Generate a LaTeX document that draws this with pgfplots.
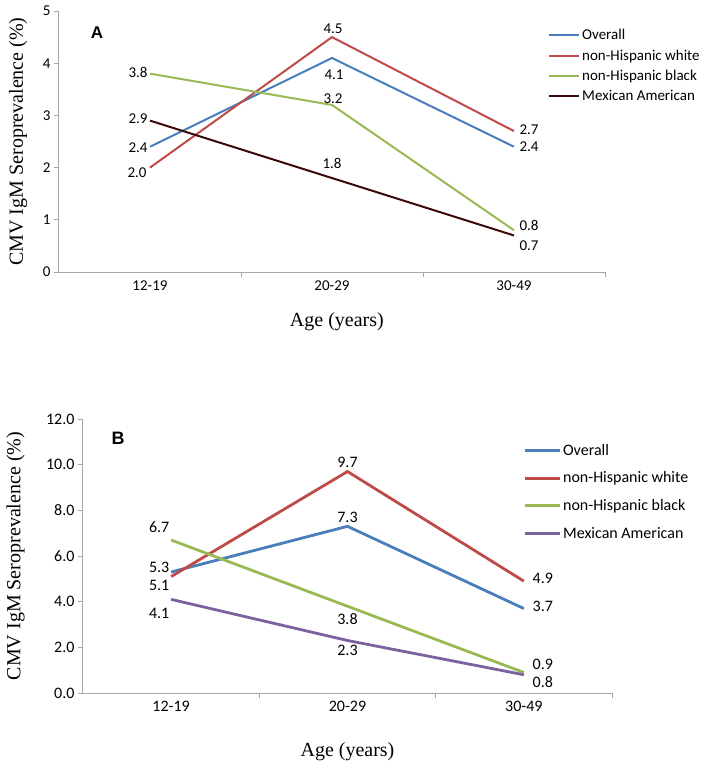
\documentclass[border=0pt]{standalone}
\usepackage{pgfplots}
\pgfplotsset{compat=1.18}
\usepackage{fontspec}
\setmainfont{Carlito}
\newfontfamily\tnr{Liberation Serif}
\newfontfamily\arial{Liberation Sans}
\definecolor{cblue}{HTML}{4A7EBB}
\definecolor{cred}{HTML}{BE4B48}
\definecolor{cgreen}{HTML}{98B954}
\definecolor{cmaroon}{HTML}{3C0A0A}
\definecolor{cpurple}{HTML}{7D60A0}
\definecolor{axgray}{HTML}{A6A6A6}
\pgfplotsset{
  base/.style={
    scale only axis, anchor=south west,
    axis x line=bottom, axis y line=left,
    axis line style={axgray, line width=1pt, -},
    xmin=0, xmax=3,
    xtick={0.5,1.5,2.5},
    xticklabels={12-19,20-29,30-49},
    minor xtick={1,2,3},
    major x tick style={draw=none},
    minor x tick style={axgray, line width=1pt},
    y tick style={axgray, line width=1pt},
    tick align=outside,
    major tick length=5pt, minor tick length=5pt,
    /pgf/number format/assume math mode=true,
    clip=false,
    legend cell align=left,
    ylabel={CMV IgM Seroprevalence (\%)},
    xlabel={Age (years)},
  },
  lbl/.style={
    nodes near coords, point meta=explicit symbolic,
    visualization depends on={\thisrow{dx} \as \dx},
    visualization depends on={\thisrow{dy} \as \dy},
    every node near coord/.append style={anchor=center, xshift=\dx pt, yshift=\dy pt, text=black, inner sep=0pt, font=#1},
  },
}
\begin{document}
\begin{tikzpicture}
\path[use as bounding box] (0,0) rectangle (705pt,-769pt);
% ---------------- Panel A
\begin{axis}[base,
  at={(59pt,-272pt)}, width=546pt, height=261pt,
  ymin=0, ymax=5, ytick={0,1,2,3,4,5},
  ticklabel style={font=\fontsize{15}{18}\selectfont},
  every axis y label/.style={at={(rel axis cs:-0.0751,0.5)}, rotate=90, anchor=center, font=\tnr\fontsize{20}{24}\selectfont},
  every axis x label/.style={at={(rel axis cs:0.509,0)}, yshift=-50pt, anchor=center, font=\tnr\fontsize{20}{24}\selectfont},
  legend style={at={(rel axis cs:0.8956,0.9387)}, anchor=north west, draw=none, fill=none, inner sep=0pt, font=\fontsize{15}{18}\selectfont, row sep=4.5pt},
  legend image code/.code={\draw[#1, line width=2pt] (0pt,0pt) -- (30pt,0pt);},
]
\addplot[cblue, line width=2pt, lbl={\fontsize{15}{18}\selectfont}] table[x=x, y=y, meta=lab]{
x y lab dx dy
0.5 2.4 2.4 -12 -1
1.5 4.1 4.1 2 -17
2.5 2.4 2.4 15 0
};
\addlegendentry{Overall}
\addplot[cred, line width=2pt, lbl={\fontsize{15}{18}\selectfont}] table[x=x, y=y, meta=lab]{
x y lab dx dy
0.5 2.0 2.0 -13 -5
1.5 4.5 4.5 1 8
2.5 2.7 2.7 15 1
};
\addlegendentry{non-Hispanic white}
\addplot[cgreen, line width=2pt, lbl={\fontsize{15}{18}\selectfont}] table[x=x, y=y, meta=lab]{
x y lab dx dy
0.5 3.8 3.8 -12 1
1.5 3.2 3.2 1 6
2.5 0.8 0.8 15 5
};
\addlegendentry{non-Hispanic black}
\addplot[cmaroon, line width=2pt, lbl={\fontsize{15}{18}\selectfont}] table[x=x, y=y, meta=lab]{
x y lab dx dy
0.5 2.9 2.9 -12 2
1.5 1.8 1.8 0 15
2.5 0.7 0.7 15 -10
};
\addlegendentry{Mexican American}
\end{axis}
% ---------------- Panel B
\begin{axis}[base,
  at={(83pt,-693pt)}, width=529pt, height=274pt,
  ymin=0, ymax=12, ytick={0,2,4,6,8,10,12},
  yticklabel style={/pgf/number format/.cd, fixed, fixed zerofill, precision=1},
  ticklabel style={font=\fontsize{16}{19}\selectfont},
  every axis y label/.style={at={(rel axis cs:-0.1276,0.5)}, rotate=90, anchor=center, font=\tnr\fontsize{20}{24}\selectfont},
  every axis x label/.style={at={(rel axis cs:0.5,0)}, yshift=-59pt, anchor=center, font=\tnr\fontsize{20}{24}\selectfont},
  legend style={at={(rel axis cs:0.832,0.916)}, anchor=north west, draw=none, fill=none, inner sep=0pt, font=\fontsize{16}{19}\selectfont, row sep=11pt},
  legend image code/.code={\draw[#1, line width=2.8pt] (0pt,0pt) -- (35pt,0pt);},
]
\addplot[cblue, line width=2.8pt, lbl={\fontsize{16}{19}\selectfont}] table[x=x, y=y, meta=lab]{
x y lab dx dy
0.5 5.3 5.3 -12 5
1.5 7.3 7.3 0 9
2.5 3.7 3.7 19 2
};
\addlegendentry{Overall}
\addplot[cred, line width=2.8pt, lbl={\fontsize{16}{19}\selectfont}] table[x=x, y=y, meta=lab]{
x y lab dx dy
0.5 5.1 5.1 -12 -9
1.5 9.7 9.7 0 9
2.5 4.9 4.9 19 3
};
\addlegendentry{non-Hispanic white}
\addplot[cgreen, line width=2.8pt, lbl={\fontsize{16}{19}\selectfont}] table[x=x, y=y, meta=lab]{
x y lab dx dy
0.5 6.7 6.7 -12 13
1.5 3.8 3.8 0 -13
2.5 0.9 0.9 19 8
};
\addlegendentry{non-Hispanic black}
\addplot[cpurple, line width=2.8pt, lbl={\fontsize{16}{19}\selectfont}] table[x=x, y=y, meta=lab]{
x y lab dx dy
0.5 4.1 4.1 -12 -14
1.5 2.3 2.3 0 -10
2.5 0.8 0.8 19 -7
};
\addlegendentry{Mexican American}
\end{axis}
\node[font=\arial\bfseries\fontsize{17}{20}\selectfont] at (97pt,-33pt) {A};
\node[font=\arial\bfseries\fontsize{18}{21}\selectfont] at (118pt,-438pt) {B};
\end{tikzpicture}
\end{document}
